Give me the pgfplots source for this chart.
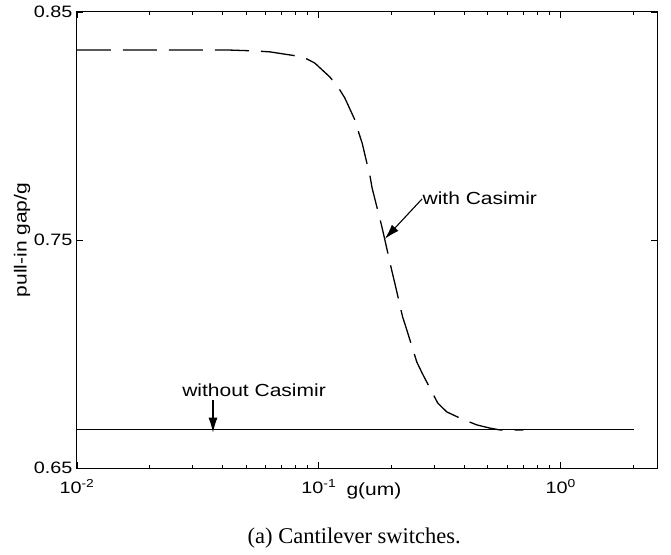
\documentclass[border=0pt]{standalone}
\usepackage{fontspec}
\setmainfont{Liberation Sans}[FakeStretch=1.2]
\newfontfamily\capfont{Liberation Serif}
\usepackage{pgfplots}
\pgfplotsset{compat=1.18}
\usetikzlibrary{arrows.meta}
\begin{document}
\begin{tikzpicture}
\useasboundingbox (-77pt,-86pt) rectangle (594pt,468pt);
\begin{axis}[
  scale only axis, width=580pt, height=456pt,
  xmode=log, xmin=0.01, xmax=2.5, ymin=0.65, ymax=0.85,
  xtick={0.01,0.1,1},
  xticklabels={10\textsuperscript{-2},10\textsuperscript{-1},10\textsuperscript{0}},
  minor xtick={0.02,0.03,0.04,0.05,0.06,0.07,0.08,0.09,0.2,0.3,0.4,0.5,0.6,0.7,0.8,0.9,2},
  ytick={0.65,0.75,0.85}, yticklabels={0.65,0.75,0.85},
  /pgf/number format/assume math mode=true,
  tick align=inside, major tick length=6pt, minor tick length=3pt,
  axis line style={line width=1pt},
  every tick/.style={black, line width=0.9pt},
  tick label style={font=\fontsize{16.5}{19}\selectfont},
  xticklabel style={yshift=-8pt},
  yticklabel style={xshift=-1pt},
  xlabel={g(um)},
  xlabel style={font=\fontsize{17.5}{20}\selectfont, at={(axis description cs:0.512,-0.0592)}, anchor=base},
  ylabel={pull-in gap/g},
  ylabel style={font=\fontsize{17.5}{20}\selectfont, at={(axis description cs:-0.0948,0.5)}, anchor=center, rotate=0},
  clip=false,
]
\addplot[black, line width=1.1pt] coordinates {(0.01,0.6667) (2,0.6667)};
\addplot[black, line width=1.3pt, dash pattern=on 34pt off 12pt] coordinates {
(0.01,0.8333) (0.02,0.8333) (0.0429,0.8333) (0.0554,0.8329) (0.0628,0.8325)
(0.0859,0.8303) (0.0962,0.8276) (0.111,0.8215) (0.120,0.8171) (0.128,0.8123)
(0.141,0.8026) (0.145,0.7982) (0.151,0.7925) (0.163,0.7776) (0.166,0.7728)
(0.182,0.7560) (0.1875,0.7500) (0.200,0.7368) (0.206,0.7311) (0.222,0.7162)
(0.229,0.7118) (0.254,0.6965) (0.267,0.6917) (0.310,0.6785) (0.338,0.6746)
(0.390,0.6715) (0.450,0.6689) (0.509,0.6675) (0.560,0.6667) (0.70,0.6667)
};
\draw[line width=1.1pt, -{Latex[length=15pt,width=9pt]}] (axis cs:0.267,0.768) -- (axis cs:0.1875,0.7505);
\node[anchor=base west, inner sep=0pt, font=\fontsize{17.5}{20}\selectfont] at (axis cs:0.268,0.7654) {with Casimir};
\draw[line width=1.1pt, -{Latex[length=15pt,width=9pt]}] (axis cs:0.0365,0.6798) -- (axis cs:0.0365,0.6655);
\node[anchor=base west, inner sep=0pt, font=\fontsize{17.5}{20}\selectfont] at (axis cs:0.0272,0.6815) {without Casimir};
\node[anchor=base, inner sep=0pt, font=\capfont\fontsize{22.5}{26}\selectfont] at (axis description cs:0.478,-0.1645) {(a) Cantilever switches.};
\end{axis}
\end{tikzpicture}
\end{document}
